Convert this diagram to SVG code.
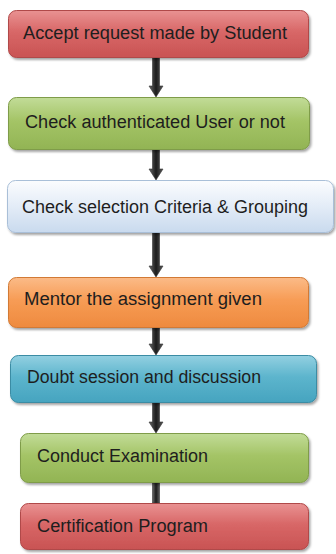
<svg xmlns="http://www.w3.org/2000/svg" width="336" height="554" viewBox="0 0 336 554">
<defs>
<linearGradient id="gRed" x1="0" y1="0" x2="0" y2="1">
<stop offset="0" stop-color="#e99292"/><stop offset="0.45" stop-color="#d86767"/><stop offset="1" stop-color="#c95353"/>
</linearGradient>
<linearGradient id="gGreen" x1="0" y1="0" x2="0" y2="1">
<stop offset="0" stop-color="#c2dc98"/><stop offset="0.45" stop-color="#a4c466"/><stop offset="1" stop-color="#92b454"/>
</linearGradient>
<linearGradient id="gLight" x1="0" y1="0" x2="0" y2="1">
<stop offset="0" stop-color="#fbfcfe"/><stop offset="0.5" stop-color="#e3ecf7"/><stop offset="1" stop-color="#c9daee"/>
</linearGradient>
<linearGradient id="gOrange" x1="0" y1="0" x2="0" y2="1">
<stop offset="0" stop-color="#fbbb88"/><stop offset="0.45" stop-color="#f79c55"/><stop offset="1" stop-color="#ee8a3e"/>
</linearGradient>
<linearGradient id="gBlue" x1="0" y1="0" x2="0" y2="1">
<stop offset="0" stop-color="#93d0e1"/><stop offset="0.45" stop-color="#5db5cd"/><stop offset="1" stop-color="#46a4bf"/>
</linearGradient>
<linearGradient id="gArrow" x1="0" y1="0" x2="1" y2="0">
<stop offset="0" stop-color="#6a6a6a"/><stop offset="0.5" stop-color="#1c1c1c"/><stop offset="1" stop-color="#5a5a5a"/>
</linearGradient>
<filter id="sh" x="-5%" y="-10%" width="112%" height="130%">
<feDropShadow dx="1.5" dy="2" stdDeviation="1.2" flood-color="#000" flood-opacity="0.35"/>
</filter>
</defs>
<style>
.box{filter:url(#sh);stroke-width:1}
.red{fill:url(#gRed);stroke:#b04848}
.green{fill:url(#gGreen);stroke:#7f9c48}
.light{fill:url(#gLight);stroke:#a9bfd8}
.orange{fill:url(#gOrange);stroke:#d27a35}
.blue{fill:url(#gBlue);stroke:#3a8ca4}
.t{font-family:"Liberation Sans",Arial,sans-serif;font-size:18px;fill:#1e1e1e}
.arr{fill:url(#gArrow);stroke:#333;stroke-width:0.6}
</style>
<rect width="336" height="554" fill="#ffffff"/>
<g id="connectors">
<path class="arr" d="M152.5,57 H159.5 V86 H163 L156,97 L149,86 H152.5 Z"/>
<path class="arr" d="M152.5,149 H159.5 V169 H163 L156,180 L149,169 H152.5 Z"/>
<path class="arr" d="M152.5,232 H159.5 V266 H163 L156,277 L149,266 H152.5 Z"/>
<path class="arr" d="M152.5,328 H159.5 V344 H163 L156,355 L149,344 H152.5 Z"/>
<path class="arr" d="M152.5,403 H159.5 V422 H163 L156,433 L149,422 H152.5 Z"/>
<path class="arr" d="M152.5,483 H159.5 V503 H152.5 Z"/>
</g>
<g id="n1"><rect class="box red" x="8.5" y="10.5" width="300" height="47" rx="8"/><text class="t" x="23" y="39" textLength="264" lengthAdjust="spacingAndGlyphs">Accept request made by Student</text></g>
<g id="n2"><rect class="box green" x="8.5" y="97.5" width="301" height="52" rx="8"/><text class="t" x="25" y="128" textLength="260" lengthAdjust="spacingAndGlyphs">Check authenticated User or not</text></g>
<g id="n3"><rect class="box light" x="7.5" y="180.5" width="326" height="52" rx="8"/><text class="t" x="22" y="213" textLength="286" lengthAdjust="spacingAndGlyphs">Check selection Criteria &amp; Grouping</text></g>
<g id="n4"><rect class="box orange" x="8.5" y="277.5" width="300" height="50" rx="8"/><text class="t" x="24" y="305" textLength="238" lengthAdjust="spacingAndGlyphs">Mentor the assignment given</text></g>
<g id="n5"><rect class="box blue" x="10.5" y="355.5" width="306" height="47" rx="8"/><text class="t" x="27" y="383" textLength="234" lengthAdjust="spacingAndGlyphs">Doubt session and discussion</text></g>
<g id="n6"><rect class="box green" x="20.5" y="433.5" width="288" height="49" rx="8"/><text class="t" x="37" y="462" textLength="171" lengthAdjust="spacingAndGlyphs">Conduct Examination</text></g>
<g id="n7"><rect class="box red" x="20.5" y="503.5" width="288" height="46" rx="8"/><text class="t" x="37" y="532" textLength="171" lengthAdjust="spacingAndGlyphs">Certification Program</text></g>
</svg>
